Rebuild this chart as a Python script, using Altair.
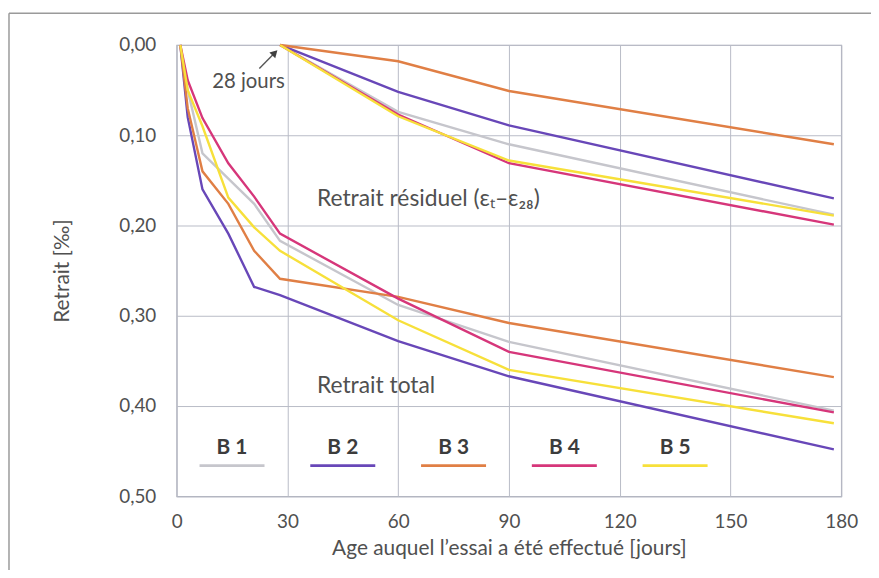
import altair as alt
import pandas as pd

series = ["B 1", "B 2", "B 3", "B 4", "B 5"]
colors = ["#c6c6cc", "#6847b8", "#e07f45", "#d6367a", "#f7e03a"]

# Retrait total (‰)
total_days = [1, 3, 7, 14, 21, 28, 60, 90, 178]
total_b1 = [0.0, 0.050, 0.120, 0.148, 0.176, 0.217, 0.288, 0.329, 0.405]
total_b2 = [0.0, 0.080, 0.160, 0.209, 0.268, 0.277, 0.328, 0.367, 0.448]
total_b3 = [0.0, 0.070, 0.140, 0.176, 0.228, 0.259, 0.279, 0.308, 0.368]
total_b4 = [0.0, 0.039, 0.081, 0.131, 0.168, 0.209, 0.281, 0.340, 0.407]
total_b5 = [0.0, 0.050, 0.090, 0.169, 0.202, 0.228, 0.305, 0.360, 0.419]

# Retrait résiduel (εt − ε28)
resid_days = [28, 60, 90, 178]
resid_b1 = [0.0, 0.074, 0.110, 0.188]
resid_b2 = [0.0, 0.052, 0.089, 0.170]
resid_b3 = [0.0, 0.018, 0.051, 0.110]
resid_b4 = [0.0, 0.077, 0.131, 0.199]
resid_b5 = [0.0, 0.079, 0.128, 0.189]

x_ticks = [0, 30, 60, 90, 120, 150, 180]
y_ticks = [0.0, 0.1, 0.2, 0.3, 0.4, 0.5]

rows = []
for name, tv, rv in zip(series,
                        [total_b1, total_b2, total_b3, total_b4, total_b5],
                        [resid_b1, resid_b2, resid_b3, resid_b4, resid_b5]):
    for d, v in zip(total_days, tv):
        rows.append({"day": d, "value": v, "series": name, "curve": "total"})
    for d, v in zip(resid_days, rv):
        rows.append({"day": d, "value": v, "series": name, "curve": "resid"})
lines_df = pd.DataFrame(rows)

# legend: one entry centred in each 30-day grid cell
leg_df = pd.DataFrame({
    "series": series,
    "xc": [15 + 30 * i for i in range(len(series))],
})
leg_df["x0"] = leg_df["xc"] - 8.8
leg_df["x1"] = leg_df["xc"] + 8.8
leg_df["ytext"] = 0.453
leg_df["yline"] = 0.466

FONT = "Lato"
TXT = "#505050"

xscale = alt.Scale(domain=[0, 180], nice=False)
yscale = alt.Scale(domain=[0, 0.5], reverse=True, nice=False)
cscale = alt.Scale(domain=series, range=colors)

x_enc = alt.X("day:Q", scale=xscale,
              axis=alt.Axis(values=x_ticks, title="Age auquel l’essai a été effectué [jours]",
                            tickSize=0, labelPadding=16, titlePadding=7, domain=False,
                            grid=True, format="d", labelFlush=False))
y_enc = alt.Y("value:Q", scale=yscale,
              axis=alt.Axis(values=y_ticks, title="Retrait [‰]", tickSize=0,
                            labelPadding=21, titlePadding=47, domain=False, grid=True,
                            labelFlush=False,
                            labelExpr="replace(format(datum.value, '.2f'), '.', ',')"))

lines = alt.Chart(lines_df).mark_line(strokeWidth=2.4).encode(
    x=x_enc, y=y_enc,
    color=alt.Color("series:N", scale=cscale, legend=None),
    detail="curve:N",
    order="day:Q",
)

leg_lines = alt.Chart(leg_df).mark_rule(strokeWidth=3).encode(
    x="x0:Q", x2="x1:Q", y="yline:Q",
    color=alt.Color("series:N", scale=cscale, legend=None),
)
leg_text = alt.Chart(leg_df).mark_text(
    font=FONT, fontSize=21, fontWeight="bold", color="#3c3c3c", baseline="alphabetic"
).encode(x="xc:Q", y="ytext:Q", text="series:N")

ann_df = pd.DataFrame({
    "x": [38, 38],
    "y": [0.178, 0.385],
    "label": ["Retrait résiduel (εₜ–ε₂₈)", "Retrait total"],
})
ann = alt.Chart(ann_df).mark_text(
    font=FONT, fontSize=23, color=TXT, align="left", baseline="alphabetic"
).encode(x="x:Q", y="y:Q", text="label:N")

j28_df = pd.DataFrame({"x": [29.3], "y": [0.048], "label": ["28 jours"]})
j28 = alt.Chart(j28_df).mark_text(
    font=FONT, fontSize=20.5, color=TXT, align="right", baseline="alphabetic"
).encode(x="x:Q", y="y:Q", text="label:N")

arrow_df = pd.DataFrame({"x": [22.4], "y": [0.026], "x2": [26.6], "y2": [0.0087]})
arrow_line = alt.Chart(arrow_df).mark_rule(strokeWidth=1.4, color="#555555").encode(
    x="x:Q", y="y:Q", x2="x2:Q", y2="y2:Q")
arrow_head = alt.Chart(arrow_df).mark_point(
    shape="triangle-up", filled=True, size=70, angle=45, color="#404040", opacity=1
).encode(x="x2:Q", y="y2:Q")

frame_top = alt.Chart(arrow_df).mark_rule(color="#9a9a9a", strokeWidth=1.5).encode(
    x=alt.value(-169), x2=alt.value(720), y=alt.value(-32))
frame_left = alt.Chart(arrow_df).mark_rule(color="#9a9a9a", strokeWidth=1.5).encode(
    x=alt.value(-169), y=alt.value(-32), y2=alt.value(540))

chart = alt.layer(
    frame_top, frame_left, lines, leg_lines, leg_text, ann, j28, arrow_line, arrow_head
).properties(
    width=670, height=455,
    background="white",
    autosize=alt.AutoSizeParams(type="none"),
    padding={"left": 170, "top": 35, "right": 30, "bottom": 72},
).configure_view(
    stroke="#a8abb6", strokeWidth=1.2
).configure_axis(
    labelFont=FONT, titleFont=FONT, labelColor=TXT, titleColor=TXT,
    labelFontSize=19, titleFontSize=21, titleFontWeight="normal",
    gridColor="#b8bbc6", gridWidth=1, gridOpacity=1
)

chart.save("out.html", embed_options={"renderer": "svg", "actions": False})
